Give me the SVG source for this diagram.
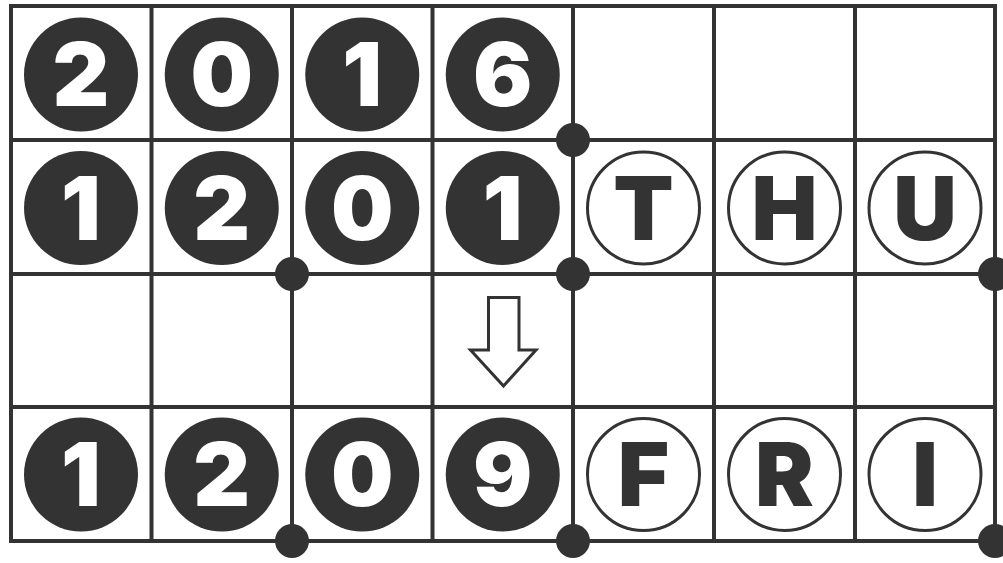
<svg xmlns="http://www.w3.org/2000/svg" width="1003" height="563" viewBox="0 0 1003 563">
  <style>
    .grid line { stroke: #333333; stroke-width: 4; }
    .fill { fill: #333333; }
    .ring { fill: #ffffff; stroke: #333333; stroke-width: 3; }
    .dig { font-family: Inter, "Liberation Sans", sans-serif; font-weight: 900; font-size: 88px; text-anchor: middle; fill: #ffffff; }
    .let { font-family: Inter, "Liberation Sans", sans-serif; font-weight: 900; font-size: 88px; text-anchor: middle; fill: #333333; }
    .dot { fill: #333333; }
  </style>
  <rect width="1003" height="563" fill="#ffffff"/>
  <g id="grid" class="grid">
    <line x1="9" y1="6" x2="997" y2="6"/>
    <line x1="9" y1="140" x2="997" y2="140"/>
    <line x1="9" y1="274" x2="997" y2="274"/>
    <line x1="9" y1="407" x2="997" y2="407"/>
    <line x1="9" y1="541" x2="997" y2="541"/>
    <line x1="11" y1="4" x2="11" y2="543"/>
    <line x1="151.5" y1="4" x2="151.5" y2="543"/>
    <line x1="292" y1="4" x2="292" y2="543"/>
    <line x1="432.5" y1="4" x2="432.5" y2="543"/>
    <line x1="573" y1="4" x2="573" y2="543"/>
    <line x1="714" y1="4" x2="714" y2="543"/>
    <line x1="855" y1="4" x2="855" y2="543"/>
    <line x1="995" y1="4" x2="995" y2="543"/>
  </g>
  <g id="connectors">
    <circle class="dot" cx="573" cy="140" r="17"/>
    <circle class="dot" cx="292" cy="274" r="17"/>
    <circle class="dot" cx="573" cy="274" r="17"/>
    <circle class="dot" cx="995" cy="274" r="17"/>
    <circle class="dot" cx="292" cy="541" r="17"/>
    <circle class="dot" cx="573" cy="541" r="17"/>
    <circle class="dot" cx="995" cy="541" r="17"/>
    <path id="arrow" d="M488.5,297.5 H519 V350 H536 L503.5,386 L470.5,350 H488.5 Z" fill="#ffffff" stroke="#333333" stroke-width="3" stroke-linejoin="miter"/>
  </g>
  <g id="r1c1"><circle class="fill" cx="81" cy="74.5" r="57"/><text class="dig" x="81" y="106">2</text></g>
  <g id="r1c2"><circle class="fill" cx="221.75" cy="74.5" r="57"/><text class="dig" x="221.75" y="106">0</text></g>
  <g id="r1c3"><circle class="fill" cx="362.25" cy="74.5" r="57"/><text class="dig" x="362.25" y="106">1</text></g>
  <g id="r1c4"><circle class="fill" cx="502.75" cy="74.5" r="57"/><text class="dig" x="502.75" y="106">6</text></g>

  <g id="r2c1"><circle class="fill" cx="81" cy="208" r="57"/><text class="dig" x="81" y="239.5">1</text></g>
  <g id="r2c2"><circle class="fill" cx="221.75" cy="208" r="57"/><text class="dig" x="221.75" y="239.5">2</text></g>
  <g id="r2c3"><circle class="fill" cx="362.25" cy="208" r="57"/><text class="dig" x="362.25" y="239.5">0</text></g>
  <g id="r2c4"><circle class="fill" cx="502.75" cy="208" r="57"/><text class="dig" x="502.75" y="239.5">1</text></g>
  <g id="r2c5"><circle class="ring" cx="643.5" cy="208" r="56"/><text class="let" x="643.5" y="239.5">T</text></g>
  <g id="r2c6"><circle class="ring" cx="784.5" cy="208" r="56"/><text class="let" x="784.5" y="239.5">H</text></g>
  <g id="r2c7"><circle class="ring" cx="925" cy="208" r="56"/><text class="let" x="925" y="239.5">U</text></g>

  <g id="r4c1"><circle class="fill" cx="81" cy="474.5" r="57"/><text class="dig" x="81" y="506">1</text></g>
  <g id="r4c2"><circle class="fill" cx="221.75" cy="474.5" r="57"/><text class="dig" x="221.75" y="506">2</text></g>
  <g id="r4c3"><circle class="fill" cx="362.25" cy="474.5" r="57"/><text class="dig" x="362.25" y="506">0</text></g>
  <g id="r4c4"><circle class="fill" cx="502.75" cy="474.5" r="57"/><text class="dig" x="502.75" y="506">9</text></g>
  <g id="r4c5"><circle class="ring" cx="643.5" cy="474.5" r="56"/><text class="let" x="643.5" y="506">F</text></g>
  <g id="r4c6"><circle class="ring" cx="784.5" cy="474.5" r="56"/><text class="let" x="784.5" y="506">R</text></g>
  <g id="r4c7"><circle class="ring" cx="925" cy="474.5" r="56"/><text class="let" x="925" y="506">I</text></g>
</svg>
